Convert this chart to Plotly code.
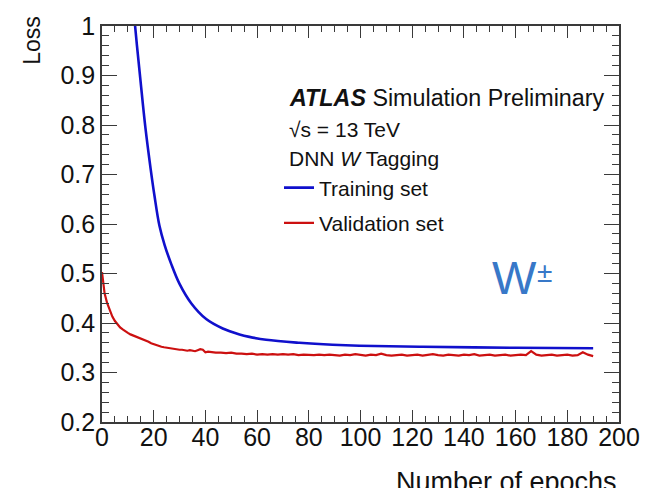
import plotly.graph_objects as go

# ---- data ----
train_epochs = [10, 11, 12.8, 14.9, 16.8, 18.8, 20.3, 22.2, 24.2, 26.8, 30.0, 34.5, 40.3,
                46.7, 53.2, 57.0, 63.5, 76.4, 89.2, 99.6, 124, 160, 190]
train_loss = [1.17, 1.11, 1.0, 0.889, 0.794, 0.712, 0.657, 0.597, 0.558, 0.519, 0.479,
              0.440, 0.408, 0.389, 0.377, 0.372, 0.366, 0.360, 0.356, 0.354, 0.352,
              0.350, 0.349]

val_epochs = list(range(0, 43)) + list(range(44, 191, 2))
val_loss = [0.503, 0.46, 0.44, 0.425, 0.413, 0.404, 0.397, 0.391, 0.387, 0.383, 0.380,
            0.377, 0.375, 0.373, 0.371, 0.369, 0.367, 0.364, 0.362, 0.359, 0.357, 0.355,
            0.353, 0.352, 0.351, 0.350, 0.349, 0.349, 0.347, 0.347, 0.346, 0.346, 0.345,
            0.344, 0.345, 0.344, 0.343, 0.345, 0.347, 0.346, 0.341, 0.342, 0.341,
            # 44 .. 190 step 2
            0.340, 0.340, 0.339, 0.340, 0.338, 0.338, 0.337, 0.338, 0.336, 0.337,
            0.336, 0.337, 0.336, 0.337, 0.336, 0.337, 0.335, 0.336, 0.335, 0.335,
            0.336, 0.335, 0.336, 0.335, 0.334, 0.336, 0.335, 0.337, 0.335, 0.334,
            0.336, 0.335, 0.338, 0.335, 0.334, 0.335, 0.336, 0.334, 0.335, 0.336,
            0.334, 0.335, 0.337, 0.335, 0.334, 0.336, 0.335, 0.334, 0.336, 0.335,
            0.337, 0.334, 0.335, 0.336, 0.334, 0.335, 0.336, 0.334, 0.335, 0.336,
            0.335, 0.343, 0.336, 0.334, 0.335, 0.336, 0.334, 0.335, 0.336, 0.334,
            0.335, 0.341, 0.336, 0.333]

x_range = [0, 200]
y_range = [0.2, 1.0]

FONT = "Liberation Sans, Arial, Helvetica, sans-serif"
AX = "#3a3a3a"

fig = go.Figure()
fig.add_trace(go.Scatter(x=train_epochs, y=train_loss, mode="lines", name="Training set",
                         line=dict(color="#1010cc", width=2.6, shape="spline", smoothing=1.0),
                         legendgroup="a"))
fig.add_trace(go.Scatter(x=val_epochs, y=val_loss, mode="lines", name="Validation set",
                         line=dict(color="#cc1010", width=2.2), legendgroup="b"))

axis_common = dict(showline=True, linecolor=AX, linewidth=1.6, mirror="ticks",
                   ticks="inside", tickcolor=AX, tickwidth=1.3, showgrid=False,
                   zeroline=False, tickfont=dict(family=FONT, size=25, color="#111"))

fig.update_xaxes(range=x_range, dtick=20, tick0=0, ticklen=12, ticklabelstandoff=-8,
                 minor=dict(dtick=5, ticklen=6, ticks="inside", tickcolor=AX, tickwidth=1.3),
                 **axis_common)
fig.update_yaxes(range=y_range, dtick=0.1, tick0=0.2, ticklen=15,
                 minor=dict(dtick=0.02, ticklen=7, ticks="inside", tickcolor=AX, tickwidth=1.3),
                 **axis_common)

L, R, T, B = 102, 37, 16, 66
W, H = 656, 488
pw, ph = W - L - R, H - T - B


def px(xp):
    return (xp - L) / pw


def py(yp):
    return (H - B - yp) / ph


ann = []
ann.append(dict(text="<b><i>ATLAS</i></b> Simulation Preliminary", x=px(287), y=py(90),
                xanchor="left", yanchor="middle", font=dict(family=FONT, size=23.3, color="#111")))
ann.append(dict(text="\u221as = 13 TeV", x=px(287), y=py(122),
                xanchor="left", yanchor="middle", font=dict(family=FONT, size=21, color="#111")))
ann.append(dict(text="DNN <i>W</i> Tagging", x=px(287), y=py(152),
                xanchor="left", yanchor="middle", font=dict(family=FONT, size=21, color="#111")))
ann.append(dict(text="W", x=px(490), y=py(274), xanchor="left", yanchor="middle",
                font=dict(family=FONT, size=47, color="#3878c8")))
ann.append(dict(text="\u00b1", x=px(535), y=py(269), xanchor="left", yanchor="middle",
                font=dict(family=FONT, size=28, color="#3878c8")))
ann.append(dict(text="Loss", textangle=-90, x=px(32), y=py(4), xanchor="center",
                yanchor="top", font=dict(family=FONT, size=23, color="#111")))
ann.append(dict(text="Number of epochs", x=px(619), y=py(466), xanchor="right",
                yanchor="top", font=dict(family=FONT, size=27, color="#111")))
for a in ann:
    a.update(xref="paper", yref="paper", showarrow=False)

fig.update_layout(
    width=W, height=H,
    margin=dict(l=L, r=R, t=T, b=B),
    plot_bgcolor="white", paper_bgcolor="white",
    annotations=ann,
    showlegend=True,
    legend=dict(x=px(279), y=py(161), xanchor="left", yanchor="top",
                bgcolor="rgba(0,0,0,0)", font=dict(family=FONT, size=21, color="#111"),
                tracegroupgap=5, itemwidth=30),
)

fig.write_html("out.html")
